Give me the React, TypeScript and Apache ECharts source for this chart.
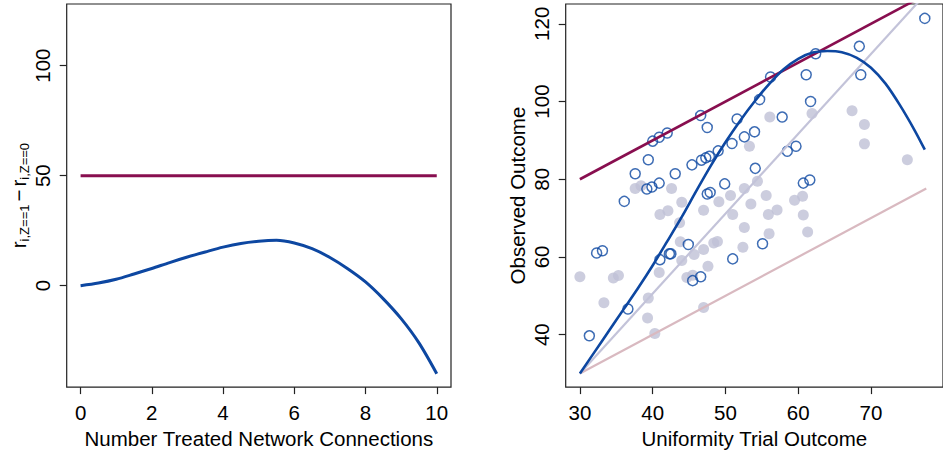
import React, { useEffect, useRef } from "react";
import * as echarts from "echarts";

// ---------- Left panel data ----------
const connX = [0, 0.5, 1, 1.5, 2, 2.5, 3, 3.5, 4, 4.5, 5, 5.5, 6, 6.5, 7, 7.5, 8, 8.5, 9, 9.5, 10];
const effectCurve = [0, 1.2, 2.9, 5.3, 7.8, 10.5, 13.0, 15.3, 17.5, 19.2, 20.2, 20.6, 19.4, 16.8, 12.8, 7.7, 1.7, -6, -15, -26, -40];
const constantX = [0, 10];
const constantEffect = [50, 50];
const leftXTicks = [0, 2, 4, 6, 8, 10];
const leftYTicks = [0, 50, 100];

// ---------- Right panel data ----------
const treatedX = [77.4, 68.4, 68.6, 62.4, 61.1, 61.7, 56.2, 54.7, 57.8, 51.6, 46.6, 47.5, 52.6, 54.0, 50.9, 59.7, 58.5, 49.0, 47.8, 47.3, 46.7, 45.4, 54.1, 49.9, 60.7, 61.6, 47.5, 47.9, 40.0, 40.9, 42.0, 39.4, 37.6, 43.1, 40.9, 39.9, 39.2, 36.1, 32.3, 33.1, 44.9, 42.3, 42.5, 41.0, 51.0, 55.1, 45.5, 46.6, 36.6, 31.3];
const treatedY = [121.4, 114.2, 106.9, 112.3, 106.9, 100.0, 106.3, 100.5, 96.0, 95.5, 96.4, 93.3, 90.9, 92.2, 89.2, 88.5, 87.2, 87.3, 85.9, 85.5, 84.9, 83.7, 82.8, 78.8, 79.0, 79.8, 76.2, 76.6, 89.8, 90.8, 91.9, 85.0, 81.4, 81.4, 79.0, 78.0, 77.5, 74.3, 61.0, 61.6, 63.2, 60.8, 60.8, 59.3, 59.5, 63.4, 53.9, 54.9, 46.6, 39.7];
const controlX = [30.0, 33.3, 34.6, 35.3, 37.6, 38.4, 39.4, 39.3, 40.3, 40.9, 41.0, 42.1, 42.6, 43.7, 43.8, 44.0, 44.0, 44.7, 45.5, 45.7, 47.0, 47.6, 47.0, 47.0, 48.4, 48.9, 49.1, 50.7, 51.0, 52.6, 52.6, 52.4, 53.3, 53.5, 54.4, 55.6, 55.9, 57.1, 56.0, 56.1, 59.5, 60.6, 60.7, 61.3, 61.9, 67.4, 69.1, 69.1, 75.0];
const controlY = [54.9, 48.2, 54.6, 55.2, 77.6, 78.3, 49.4, 44.3, 40.3, 56.0, 70.9, 71.9, 77.6, 68.8, 63.9, 74.1, 59.1, 54.7, 55.3, 60.6, 61.9, 57.6, 47.0, 72.0, 63.6, 64.0, 74.2, 75.8, 70.9, 77.6, 67.6, 62.5, 88.5, 73.6, 79.5, 75.8, 70.9, 72.1, 66.0, 96.0, 74.6, 75.6, 70.8, 66.4, 96.9, 97.6, 94.1, 89.1, 85.0];
const curveX = [30, 32, 34, 36, 38, 40, 42, 44, 46, 48, 50, 52, 54, 56, 58, 60, 62, 64, 66, 68, 70, 72, 74, 76, 77.4];
const curveY = [30, 35.5, 41, 46.5, 52, 57.8, 64, 70.3, 77, 83.5, 89.5, 95, 100, 104.5, 108.3, 111, 112.6, 113, 112.7, 111.3, 108.7, 104.6, 99.0, 92.6, 87.6];
const additiveX = [30, 80];
const additiveY = [80, 130];
const steepX = [30, 78.5];
const steepY = [30, 129.7];
const identityX = [30, 77.6];
const identityY = [30, 77.6];
const rightXTicks = [30, 40, 50, 60, 70];
const rightYTicks = [40, 60, 80, 100, 120];

const FONT = "'Liberation Sans', Arial, Helvetica, sans-serif";
const FS = 20.5;
const RED = "#880E4F";
const BLUE = "#0D47A1";
const GREY = "#BFC1D6";
const GREYLINE = "#C3C3D9";
const PINK = "#D9B9C0";
const BOX = "#222";

const zip = (a: number[], b: number[]) => a.map((v, i) => [v, b[i]]);

function xAxisCfg(grid: number, min: number, max: number, ticks: number[], name: string) {
  return {
    type: "value",
    gridIndex: grid,
    min,
    max,
    axisLine: { show: false, onZero: false },
    splitLine: { show: false },
    axisTick: { show: true, length: 7, customValues: ticks, lineStyle: { color: BOX, width: 1.2 } },
    axisLabel: { customValues: ticks, margin: 15, fontSize: FS, fontFamily: FONT, color: "#000" },
    name,
    nameLocation: "middle",
    nameGap: 40,
    nameTextStyle: { fontSize: FS, fontFamily: FONT, color: "#000" },
  };
}

function yAxisCfg(grid: number, min: number, max: number, ticks: number[], name: string, gap: number, rich?: any) {
  return {
    type: "value",
    gridIndex: grid,
    min,
    max,
    axisLine: { show: false, onZero: false },
    splitLine: { show: false },
    axisTick: { show: true, length: 7, customValues: ticks, lineStyle: { color: BOX, width: 1.2 } },
    axisLabel: { customValues: ticks, rotate: 90, margin: 14, fontSize: FS, fontFamily: FONT, color: "#000" },
    name,
    nameLocation: "middle",
    nameRotate: 90,
    nameGap: gap,
    nameTextStyle: { fontSize: FS, fontFamily: FONT, color: "#000", rich },
  };
}

const leftRich = {
  r: { fontSize: FS, fontFamily: FONT, color: "#000", lineHeight: 24 },
  m: { fontSize: FS, fontFamily: FONT, color: "#000", lineHeight: 24, padding: [0, 3, 0, 3] },
  s: { fontSize: 13, fontFamily: FONT, color: "#000", lineHeight: 8, verticalAlign: "bottom" },
};

export default function App() {
  const ref = useRef<HTMLDivElement>(null);
  useEffect(() => {
    if (!ref.current) return;
    const chart = echarts.init(ref.current, undefined, { renderer: "svg" });
    chart.setOption({
      animation: false,
      backgroundColor: "#fff",
      grid: [
        { left: 66.7, top: 4, width: 384.3, height: 383.7, show: true, borderColor: BOX, borderWidth: 1.2, backgroundColor: "transparent" },
        { left: 565.7, top: 4, width: 388.9, height: 383.7, show: true, borderColor: BOX, borderWidth: 1.2, backgroundColor: "transparent" },
      ],
      xAxis: [
        xAxisCfg(0, -0.39, 10.4, leftXTicks, "Number Treated Network Connections"),
        xAxisCfg(1, 28.05, 79.9, rightXTicks, "Uniformity Trial Outcome"),
      ],
      yAxis: [
        yAxisCfg(0, -46.1, 128, leftYTicks, "{r|r}{s|i,Z==1}{m|\u2212}{r|r}{s|i,Z==0}", 31.8, leftRich),
        yAxisCfg(1, 26.5, 125.1, rightYTicks, "Observed Outcome", 38),
      ],
      series: [
        {
          type: "line",
          xAxisIndex: 0,
          yAxisIndex: 0,
          data: zip(constantX, constantEffect),
          showSymbol: false,
          lineStyle: { color: RED, width: 3 },
        },
        {
          type: "line",
          xAxisIndex: 0,
          yAxisIndex: 0,
          data: zip(connX, effectCurve),
          smooth: 0.3,
          showSymbol: false,
          lineStyle: { color: BLUE, width: 3 },
        },
        {
          type: "scatter",
          xAxisIndex: 1,
          yAxisIndex: 1,
          data: zip(controlX, controlY),
          symbol: "circle",
          symbolSize: 11,
          itemStyle: { color: GREY },
        },
        {
          type: "line",
          xAxisIndex: 1,
          yAxisIndex: 1,
          data: zip(identityX, identityY),
          showSymbol: false,
          lineStyle: { color: PINK, width: 2.2 },
        },
        {
          type: "line",
          xAxisIndex: 1,
          yAxisIndex: 1,
          data: zip(steepX, steepY),
          showSymbol: false,
          lineStyle: { color: GREYLINE, width: 2.2 },
        },
        {
          type: "line",
          xAxisIndex: 1,
          yAxisIndex: 1,
          data: zip(additiveX, additiveY),
          showSymbol: false,
          lineStyle: { color: RED, width: 2.6 },
        },
        {
          type: "line",
          xAxisIndex: 1,
          yAxisIndex: 1,
          data: zip(curveX, curveY),
          smooth: 0.3,
          showSymbol: false,
          lineStyle: { color: BLUE, width: 2.6 },
        },
        {
          type: "scatter",
          xAxisIndex: 1,
          yAxisIndex: 1,
          data: zip(treatedX, treatedY),
          symbol: "circle",
          symbolSize: 10,
          itemStyle: { color: "rgba(0,0,0,0)", borderColor: BLUE, borderWidth: 1.5 },
        },
      ],
    });
    return () => chart.dispose();
  }, []);
  return (
    <div
      ref={ref}
      style={{ position: "fixed", left: 0, top: 0, width: 943, height: 454, background: "#fff" }}
    />
  );
}
